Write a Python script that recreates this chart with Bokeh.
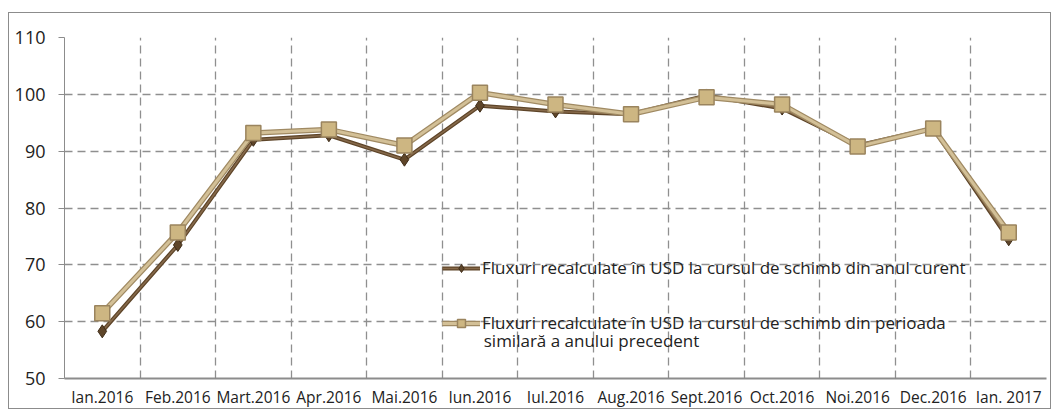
from bokeh.plotting import figure
from bokeh.models import FixedTicker, Legend, LegendItem, Range1d, Label
from bokeh.embed import file_html
from bokeh.resources import INLINE

months = ["Ian.2016", "Feb.2016", "Mart.2016", "Apr.2016", "Mai.2016", "Iun.2016",
          "Iul.2016", "Aug.2016", "Sept.2016", "Oct.2016", "Noi.2016", "Dec.2016", "Ian. 2017"]
curent = [58.3, 73.5, 92.0, 92.8, 88.5, 98.0, 97.0, 96.5, 99.8, 97.5, 91.0, 94.0, 74.5]
precedent = [61.5, 75.7, 93.2, 93.8, 91.0, 100.3, 98.2, 96.5, 99.5, 98.2, 90.8, 94.0, 75.7]
yticks = [50, 60, 70, 80, 90, 100, 110]

label1 = "Fluxuri recalculate în USD la cursul de schimb din anul curent"
label2a = "Fluxuri recalculate în USD la cursul de schimb din perioada"
label2b = "similară a anului precedent"

FONT = "Open Sans"
xs = [i + 0.5 for i in range(len(months))]

p = figure(width=1043, height=397, output_backend="svg", toolbar_location=None,
           x_range=Range1d(0, len(months)), y_range=Range1d(50, 110),
           min_border_left=55, min_border_right=6, min_border_top=24, min_border_bottom=10)
p.styles = {"border": "1px solid #8c8c8c", "margin-left": "8px", "margin-top": "12px"}
p.outline_line_color = None

# axes
p.xaxis.ticker = FixedTicker(ticks=xs)
p.xaxis.major_label_overrides = {x: m for x, m in zip(xs, months)}
p.xaxis.major_tick_line_color = None
p.xaxis.minor_tick_line_color = None
p.xaxis.axis_line_color = "#8c8c8c"
p.xaxis.axis_line_width = 2
p.xaxis.major_label_text_font = FONT
p.xaxis.major_label_text_font_size = "15.5px"
p.xaxis.major_label_text_color = "#222222"
p.xaxis.major_label_standoff = 1

p.yaxis.ticker = FixedTicker(ticks=yticks)
p.yaxis.minor_tick_line_color = None
p.yaxis.major_tick_out = 6
p.yaxis.major_tick_in = 0
p.yaxis.major_tick_line_color = "#8c8c8c"
p.yaxis.axis_line_color = "#8c8c8c"
p.yaxis.major_label_text_font = FONT
p.yaxis.major_label_text_font_size = "18px"
p.yaxis.major_label_text_color = "#222222"
p.yaxis.major_label_standoff = 13

# grid
p.xgrid.ticker = FixedTicker(ticks=list(range(1, len(months))))
p.ygrid.ticker = FixedTicker(ticks=yticks[1:])
for g in (p.xgrid, p.ygrid):
    g.grid_line_color = "#8f8f8f"
    g.grid_line_dash = "8 5"
    g.grid_line_width = 1.3

# series 1 (dark, diamonds)
l1o = p.line(xs, curent, line_color="#5e4529", line_width=4)
l1 = p.line(xs, curent, line_color="#86694a", line_width=1.5)
m1 = p.scatter(xs, curent, marker="diamond", size=13, fill_color="#5e4529", line_color="#3e2c18")

# series 2 (light, squares)
l2o = p.line(xs, precedent, line_color="#a08a63", line_width=5.5)
l2 = p.line(xs, precedent, line_color="#d3c097", line_width=3)
m2 = p.scatter(xs, precedent, marker="square", size=15, fill_color="#cdb682", line_color="#9a845e", line_width=1.5)

legend = Legend(items=[LegendItem(label=label1, renderers=[l1o, l1, m1]),
                       LegendItem(label=label2a, renderers=[l2o, l2, m2])],
                location=(378, 44))
legend.background_fill_alpha = 0
legend.border_line_color = None
legend.label_text_font = FONT
legend.label_text_font_size = "17px"
legend.label_text_color = "#222222"
legend.glyph_width = 38
legend.label_standoff = 2
legend.spacing = 32
legend.padding = 0
p.add_layout(legend, "center")

p.add_layout(Label(x=5.55, y=56.6, text=label2b, text_font=FONT, text_font_size="17px",
                   text_color="#222222", text_baseline="middle", text_align="left"))

open("out.html", "w").write(file_html(p, INLINE))
